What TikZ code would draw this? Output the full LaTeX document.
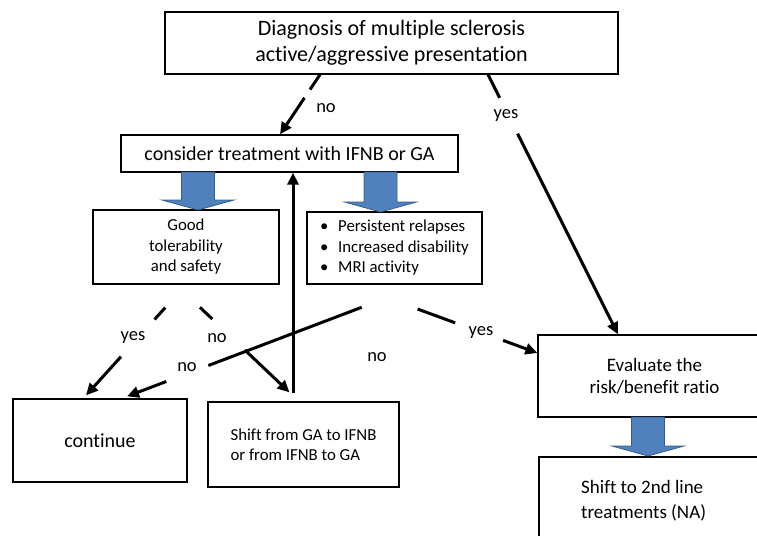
\documentclass[tikz,border=0pt]{standalone}
\usepackage{fontspec}
\setmainfont{Carlito}[Ligatures=NoCommon]
\usetikzlibrary{positioning, arrows.meta}

\definecolor{blockblue}{HTML}{4F81BD}
\definecolor{blockedge}{HTML}{385D8A}

\tikzset{
  flowbox/.style={draw, line width=1.2pt, inner sep=0pt, align=center},
  arr/.style={line width=3pt, -{Triangle[length=12pt,width=11pt]}},
  lbl/.style={font=\fontsize{18.5}{22}\selectfont},
  bigtxt/.style={font=\fontsize{20}{24}\selectfont},
  smalltxt/.style={font=\fontsize{16.8}{20.5}\selectfont},
}
\newcommand{\bitem}[1]{\makebox[18pt][l]{\textbullet}#1}

\begin{document}
\begin{tikzpicture}[x=1pt, y=-1pt]
\useasboundingbox (0,0) rectangle (757,535);

% boxes
\node[flowbox, minimum width=453pt, minimum height=62pt, font=\fontsize{22}{26}\selectfont] (diag) at (391.5,43)
    {Diagnosis of multiple sclerosis\\active/aggressive presentation};
\node[flowbox, bigtxt, minimum width=337pt, minimum height=37pt] (cons) at (289.5,153.5)
    {consider treatment with IFNB or GA};
\node[flowbox, smalltxt, minimum width=186pt, minimum height=74pt] (good) at (186,247)
    {Good\\tolerability\\and safety};
\node[flowbox, smalltxt, align=left, minimum width=175pt, minimum height=72pt] (bul) at (394.5,248)
    {\bitem{Persistent relapses}\\\bitem{Increased disability}\\\bitem{MRI activity}};
\node[flowbox, bigtxt, minimum width=174pt, minimum height=83pt] (cont) at (100,440.5) {continue};
\node[flowbox, smalltxt, align=left, minimum width=191pt, minimum height=85pt] (shift) at (303.5,444.5)
    {Shift from GA to IFNB\\or from IFNB to GA};
\node[flowbox, font=\fontsize{19}{22}\selectfont, minimum width=233pt, minimum height=82pt] (eval) at (654.5,376)
    {Evaluate the\\risk/benefit ratio};
\node[flowbox, minimum width=232pt, minimum height=103pt] (second) at (655,508.5) {};
\node[font=\fontsize{19}{25}\selectfont, align=left, anchor=west, inner sep=0pt] (secondtxt) at (581,500.5)
    {Shift to 2nd line\\treatments (NA)};

% block arrows
\foreach \bx/\btop/\btip in {198/172/210, 380.5/172/212, 648/417/456}
  \filldraw[fill=blockblue, draw=blockedge, line width=0.8pt]
    ({\bx-16.5},\btop) -- ({\bx+16.5},\btop) -- ({\bx+16.5},{\btip-10}) -- ({\bx+36},{\btip-10})
    -- (\bx,\btip) -- ({\bx-36},{\btip-10}) -- ({\bx-16.5},{\btip-10}) -- cycle;

% connectors
\draw[arr, dash pattern=on 18pt off 10pt on 200pt] ([xshift=-71.5pt]diag.south) -- ([xshift=-9.5pt]cons.north);
\draw[arr, dash pattern=on 26pt off 40pt on 400pt] ([xshift=96.5pt]diag.south) -- ([xshift=-36.5pt]eval.north);
\draw[arr, shorten <=31pt, dash pattern=on 16pt off 50pt on 300pt] (good.south) -- ([xshift=-14pt,yshift=3pt]cont.north);
\draw[arr, shorten <=33pt, dash pattern=on 17pt off 45pt on 300pt] ([xshift=-10pt]good.south) -- ([xshift=-14pt,yshift=9pt]shift.north);
\draw[arr, shorten <=64pt, dash pattern=on 164pt off 45pt on 300pt] ([xshift=27pt]bul.south) -- ([xshift=27pt,yshift=2pt]cont.north);
\draw[arr, shorten <=71pt, dash pattern=on 40pt off 51pt on 300pt] ([xshift=-43.5pt]bul.south) -- ([yshift=23pt]eval.west);
\coordinate (up) at ([xshift=-10.5pt,yshift=8pt]shift.north);
\draw[arr] (up) -- (up |- cons.south);

% labels
\node[lbl] (no1) at (326,108) {no};
\node[lbl] (yes1) at (506,116) {yes};
\node[lbl] (yes2) at (133,338) {yes};
\node[lbl] (no2) at (217,338) {no};
\node[lbl] (no3) at (187,367) {no};
\node[lbl] (no4) at (377,357) {no};
\node[lbl] (yes3) at (481,333) {yes};
\end{tikzpicture}
\end{document}
